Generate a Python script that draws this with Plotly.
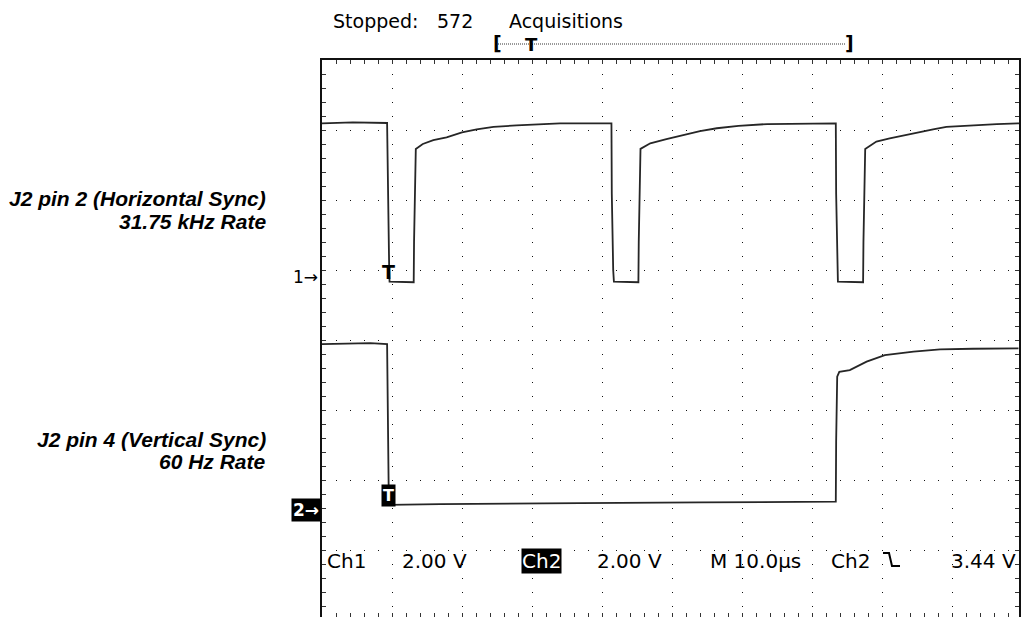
import numpy as np
import plotly.graph_objects as go

# ---------------- data (time in microseconds, voltage in volts) ----------------
ch1_time = [0, 4.4, 9.3, 9.4, 9.6, 9.65, 13.1, 13.15, 13.4, 14.4, 15.9, 17.8, 20.0, 22.1,
            24.5, 27.8, 31.6, 34.0, 41.35,
            41.4, 41.6, 41.7, 45.2, 45.25, 45.5, 46.9, 49.2, 52.1, 54.0, 56.4, 59.5, 63.6, 73.4,
            73.45, 73.65, 73.7, 77.3, 77.35, 77.6, 79.2, 81.1, 84.5, 87.3, 89.2, 92.1, 96.4, 99.6]
ch1_volts = [4.39, 4.42, 4.40, 2.37, 0.20, -0.13, -0.15, 1.01, 3.66, 3.80, 3.91, 3.99, 4.13, 4.22,
             4.29, 4.33, 4.37, 4.39, 4.39,
             2.37, 0.20, -0.13, -0.15, 1.01, 3.66, 3.82, 3.94, 4.09, 4.17, 4.25, 4.32, 4.37, 4.39,
             2.37, 0.20, -0.13, -0.15, 1.01, 3.66, 3.87, 3.96, 4.11, 4.22, 4.29, 4.33, 4.37, 4.39]

ch2_time = [0, 4.0, 6.9, 9.3, 9.4, 9.55, 16.9, 25.0, 36.9, 54.0, 73.4, 73.45, 73.6, 73.9,
            75.4, 77.8, 80.4, 84.5, 88.3, 93.0, 99.5]
ch2_volts = [4.68, 4.70, 4.71, 4.68, 2.59, 0.09, 0.11, 0.13, 0.14, 0.16, 0.18, 1.89, 3.75, 3.89,
             3.94, 4.18, 4.37, 4.47, 4.53, 4.55, 4.56]

volts_per_div = 2.0
ch1_offset_div = 0.9     # ground marker position (divisions from centre)
ch2_offset_div = -2.4

# ---------------- layout geometry ----------------
W, H = 1021, 617
L, R, T, B = 322, 2, 60, 0
pw, ph = W - L - R, H - T - B
px_per_div = 70.0
us_per_div = 10.0
x_max = pw / px_per_div * us_per_div
y_top = 4.0
y_bot = y_top - ph / px_per_div


def pxx(x):
    return (x - L) / pw


def pyy(y):
    return (H - B - y) / ph


ch1_y = ch1_offset_div + np.array(ch1_volts) / volts_per_div
ch2_y = ch2_offset_div + np.array(ch2_volts) / volts_per_div

trace_color = "#262626"
fig = go.Figure()
fig.add_trace(go.Scatter(x=ch1_time, y=ch1_y, mode="lines",
                         line=dict(color=trace_color, width=1.8), hoverinfo="skip"))
fig.add_trace(go.Scatter(x=ch2_time, y=ch2_y, mode="lines",
                         line=dict(color=trace_color, width=1.8), hoverinfo="skip"))

grid_col = "#111111"
axis_common = dict(showticklabels=False, showgrid=True, gridcolor=grid_col, gridwidth=1,
                   griddash="1px,13px", zeroline=False, showline=True, linecolor="#111111",
                   linewidth=2, mirror="ticks", ticks="inside", ticklen=4, tickcolor="#333333",
                   tickwidth=1, fixedrange=True)

fig.update_xaxes(range=[0, x_max], tick0=0, dtick=us_per_div,
                 minor=dict(dtick=us_per_div / 5, ticks="inside", ticklen=4,
                            tickcolor="#333333", showgrid=False),
                 **axis_common)
fig.update_yaxes(range=[y_bot, y_top], tick0=0, dtick=1,
                 minor=dict(dtick=0.2, ticks="inside", ticklen=4,
                            tickcolor="#333333", showgrid=False),
                 **axis_common)

scope_font = "DejaVu Sans"
ann = []


def add_text(text, x, y, size=19, xanchor="left", color="black", bg=None, family=scope_font, pad=0):
    d = dict(text=text, x=pxx(x), y=pyy(y), xref="paper", yref="paper",
             xanchor=xanchor, yanchor="middle", showarrow=False,
             font=dict(family=family, size=size, color=color))
    if bg:
        d["bgcolor"] = bg
        d["borderpad"] = pad
    ann.append(d)


# top status line
add_text("Stopped:", 331, 21)
add_text("572", 435, 21)
add_text("Acquisitions", 507, 21)

# record bracket
add_text("<b>[</b>", 491, 43, size=19)
add_text("<b>]</b>", 843, 43, size=19)
add_text("<b>T</b>", 531, 44, size=18, xanchor="center")

# bottom readout
add_text("Ch1", 325, 561, size=20)
add_text("2.00 V", 400, 561, size=20)
add_text("Ch2", 521, 561, size=20, color="white", bg="black")
add_text("2.00 V", 595, 561, size=20)
add_text("M 10.0µs", 708, 561, size=20)
add_text("Ch2", 829, 561, size=20)
add_text("3.44 V", 949, 561, size=20)

# ground markers
add_text("1→", 320, 277, size=17, xanchor="right")
add_text("<b>2→</b>", 321, 510, size=17, xanchor="right", color="white", bg="black", pad=1)

# trigger markers
add_text("<b>T</b>", 388, 272, size=19, xanchor="center")
add_text("<b>T</b>", 388, 495, size=16, xanchor="center", color="white", bg="black", pad=1)

# channel descriptions
lab = "Liberation Sans"
add_text("<b><i>J2 pin 2 (Horizontal Sync)</i></b>", 268, 199, size=21, xanchor="right", family=lab)
add_text("<b><i>31.75 kHz Rate</i></b>", 268, 221, size=21, xanchor="right", family=lab)
add_text("<b><i>J2 pin 4 (Vertical Sync)</i></b>", 268, 439, size=21, xanchor="right", family=lab)
add_text("<b><i>60 Hz Rate</i></b>", 268, 461, size=21, xanchor="right", family=lab)

shapes = [
    # dotted record line
    dict(type="line", xref="paper", yref="paper", x0=pxx(498), x1=pxx(846), y0=pyy(44), y1=pyy(44),
         line=dict(color="#333333", width=1, dash="1px,1px")),
    # falling-edge trigger slope glyph
    dict(type="path", xref="paper", yref="paper",
         path=f"M {pxx(883)},{pyy(553)} L {pxx(889)},{pyy(553)} L {pxx(892)},{pyy(566)} L {pxx(900)},{pyy(566)}",
         line=dict(color="black", width=2)),
]

fig.update_layout(width=W, height=H, margin=dict(l=L, r=R, t=T, b=B, pad=0),
                  paper_bgcolor="white", plot_bgcolor="white", showlegend=False,
                  annotations=ann, shapes=shapes)

fig.write_html("out.html", config={"displayModeBar": False, "staticPlot": True},
               post_script="document.body.style.margin='0px';document.body.style.overflow='hidden';")
